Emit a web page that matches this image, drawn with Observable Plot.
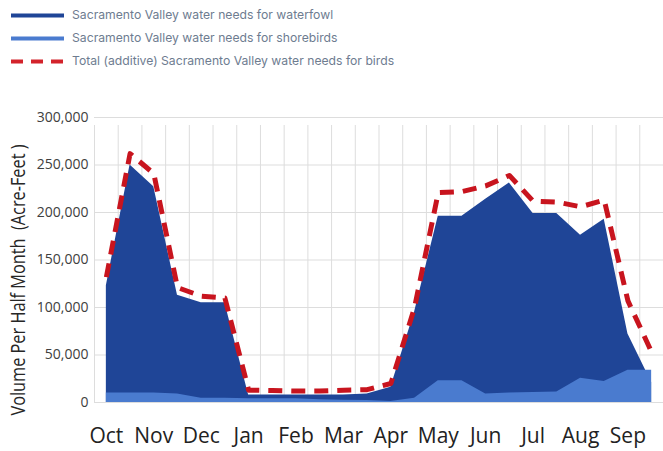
<!DOCTYPE html>
<html>
<head>
<meta charset="utf-8">
<script src="https://cdn.jsdelivr.net/npm/d3@7"></script>
<script src="https://cdn.jsdelivr.net/npm/@observablehq/plot@0.6"></script>
<style>
  html, body { margin: 0; padding: 0; background: #fff; }
  #legend { position: relative; width: 663px; height: 80px; font-family: Inter, "Open Sans", sans-serif; font-size: 12.2px; color: #6e7c90; }
  .item { position: absolute; left: 0; height: 20px; width: 663px; }
  .item svg { position: absolute; left: 11px; top: 8px; }
  .item span { position: absolute; left: 72px; top: 2px; white-space: nowrap; }
  #chart svg { display: block; }
</style>
</head>
<body>
<div id="legend"></div>
<div id="chart"></div>
<script>
const months = ["Oct","Nov","Dec","Jan","Feb","Mar","Apr","May","Jun","Jul","Aug","Sep"];
// half-month values (acre-feet), Oct 1st half .. Sep 2nd half
const waterfowl = [123000, 250000, 227000, 113000, 105000, 105000, 8000, 8000, 8000, 8000, 8000, 9000,
                   16000, 95000, 196000, 196000, 214000, 231000, 199000, 199000, 176000, 193000, 72000, 21000];
const shorebirds = [10000, 10000, 10000, 9000, 4500, 4500, 4000, 4000, 4000, 3000, 2500, 2000,
                    1000, 4500, 23000, 23000, 9000, 10000, 10500, 11000, 25500, 22000, 34000, 34000];
const total = [132000, 262000, 241000, 121000, 112000, 110000, 13000, 12600, 12000, 12000, 13000, 13500,
               20000, 100000, 221000, 222000, 228000, 239000, 212000, 211000, 206000, 213000, 107000, 53000];
const yTicks = [0, 50000, 100000, 150000, 200000, 250000, 300000];
const legendLabels = [
  "Sacramento Valley water needs for waterfowl",
  "Sacramento Valley water needs for shorebirds",
  "Total (additive) Sacramento Valley water needs for birds"
];
const yTitle = "Volume Per Half Month  (Acre-Feet )";

const colors = { waterfowl: "#1f4597", shorebirds: "#4a7bcf", total: "#c8141e" };

// legend
const legend = d3.select("#legend");
const swatches = [
  { color: colors.waterfowl, dash: null },
  { color: colors.shorebirds, dash: null },
  { color: "#d3232b", dash: "12,8" }
];
legendLabels.forEach((lab, k) => {
  const it = legend.append("div").attr("class", "item").style("top", (5 + k * 23) + "px");
  const s = it.append("svg").attr("width", 54).attr("height", 5);
  s.append("line").attr("x1", 0).attr("x2", 53).attr("y1", 2.5).attr("y2", 2.5)
    .attr("stroke", swatches[k].color).attr("stroke-width", 4)
    .attr("stroke-dasharray", swatches[k].dash);
  it.append("span").text(lab);
});

const rows = months.flatMap((m, j) => [0, 1].map(h => j * 2 + h)).map(i => ({
  i, w: waterfowl[i], s: shorebirds[i], t: total[i]
}));
const gridX = d3.range(rows.length + 1).map(k => k - 0.5);
const monthTicks = months.map((m, j) => j * 2);

const chart = Plot.plot({
  width: 663,
  height: 371,
  marginLeft: 94,
  marginRight: 0,
  marginTop: 37,
  marginBottom: 49,
  x: { domain: [-0.5, rows.length - 0.5] },
  y: { domain: [0, 300000] },
  style: { fontFamily: "'Open Sans', sans-serif", background: "#fff", overflow: "visible" },
  marks: [
    Plot.ruleY(yTicks, { stroke: "#dddddd", strokeWidth: 1 }),
    Plot.ruleX(gridX, { y1: 0, y2: 300000, stroke: "#dddddd", strokeWidth: 1, insetBottom: -8 }),
    Plot.areaY(rows, { x: "i", y: "w", fill: colors.waterfowl }),
    Plot.areaY(rows, { x: "i", y: "s", fill: colors.shorebirds }),
    Plot.line(rows, { x: "i", y: "t", stroke: colors.total, strokeWidth: 5, strokeDasharray: "14,9", strokeLinecap: "butt" }),
    Plot.axisY({ ticks: yTicks, tickSize: 0, tickPadding: 6, tickFormat: d3.format(","), fontSize: 14, fill: "#404040", label: null }),
    Plot.axisX({ ticks: monthTicks, tickFormat: i => months[i / 2], tickSize: 0, tickPadding: 26, fontSize: 21, fill: "#222", label: null }),
    Plot.text([yTitle], { frameAnchor: "left", textAnchor: "middle", rotate: -90, dx: -76, dy: 20, fontSize: 20, fill: "#262626" })
  ]
});
document.getElementById("chart").append(chart);
// condense the y-axis title (the reference uses a narrow font)
d3.select(chart).selectAll("text").each(function () {
  if (this.textContent !== yTitle) return;
  const el = d3.select(this);
  const tr = el.attr("transform");
  if (tr) el.attr("transform", tr + " scale(0.815,1)");
});
</script>
</body>
</html>
